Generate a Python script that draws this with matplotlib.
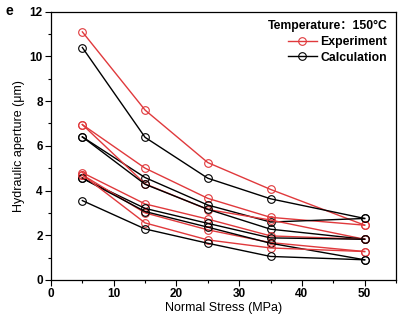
import numpy as np
import matplotlib.pyplot as plt

stress = [5, 15, 25, 35, 50]

# experiment (red) series
exp_1 = [11.1, 7.6, 5.25, 4.05, 2.45]
exp_2 = [6.95, 5.0, 3.65, 2.8, 2.45]
exp_3 = [6.95, 4.3, 3.15, 2.68, 1.82]
exp_4 = [4.8, 3.4, 2.72, 1.97, 1.82]
exp_5 = [4.7, 3.0, 2.24, 1.67, 1.27]
exp_6 = [4.7, 2.55, 1.79, 1.43, 1.27]

# calculation (black) series
calc_1 = [10.4, 6.38, 4.55, 3.63, 2.75]
calc_2 = [6.4, 4.58, 3.35, 2.59, 2.75]
calc_3 = [6.4, 4.28, 3.16, 2.27, 1.82]
calc_4 = [4.55, 3.2, 2.53, 1.88, 1.82]
calc_5 = [4.55, 3.06, 2.36, 1.64, 0.9]
calc_6 = [3.55, 2.28, 1.64, 1.05, 0.9]

exp_all = [exp_1, exp_2, exp_3, exp_4, exp_5, exp_6]
calc_all = [calc_1, calc_2, calc_3, calc_4, calc_5, calc_6]

plt.rcParams['font.family'] = ['Liberation Sans', 'Noto Sans CJK SC', 'DejaVu Sans']

red = '#e0393c'
fig = plt.figure(figsize=(4, 3.27), dpi=100)
ax = fig.add_axes([0.1275, 0.144, 0.8625, 0.82])

for i, (e, c) in enumerate(zip(exp_all, calc_all)):
    ax.plot(stress, e, color=red, lw=1.0, marker='o', ms=5.5, mfc='none',
            mec=red, mew=0.8, label='Experiment' if i == 0 else None)
    ax.plot(stress, c, color='black', lw=1.0, marker='o', ms=5.5, mfc='none',
            mec='black', mew=0.8, label='Calculation' if i == 0 else None)

ax.set_xlim(0, 55)
ax.set_ylim(0, 12)
ax.set_xticks(np.arange(0, 51, 10))
ax.set_xticks(np.arange(5, 56, 10), minor=True)
ax.set_yticks(np.arange(0, 13, 2))
ax.set_yticks(np.arange(1, 12, 2), minor=True)
ax.tick_params(which='major', direction='out', length=4, width=0.8,
               labelsize=8.5, pad=2)
ax.tick_params(which='minor', direction='out', length=2.5, width=0.8)
for lab in ax.get_xticklabels() + ax.get_yticklabels():
    lab.set_fontweight('bold')
for sp in ax.spines.values():
    sp.set_linewidth(0.9)

ax.set_xlabel('Normal Stress (MPa)', fontsize=9, labelpad=1)
ax.set_ylabel('Hydraulic aperture (\u03bcm)', fontsize=9, labelpad=3)

leg = ax.legend(loc='upper right', fontsize=8.8, frameon=False,
                title='Temperature\uff1a150\u00b0C', title_fontsize=8.8,
                handlelength=2.4, handletextpad=0.3, labelspacing=0.3,
                borderaxespad=0.3, alignment='right')
leg.get_title().set_fontweight('bold')
for t in leg.get_texts():
    t.set_fontweight('bold')

fig.text(0.015, 0.955, 'e', fontsize=10, fontweight='bold')

fig.savefig('out.png', dpi=100)
